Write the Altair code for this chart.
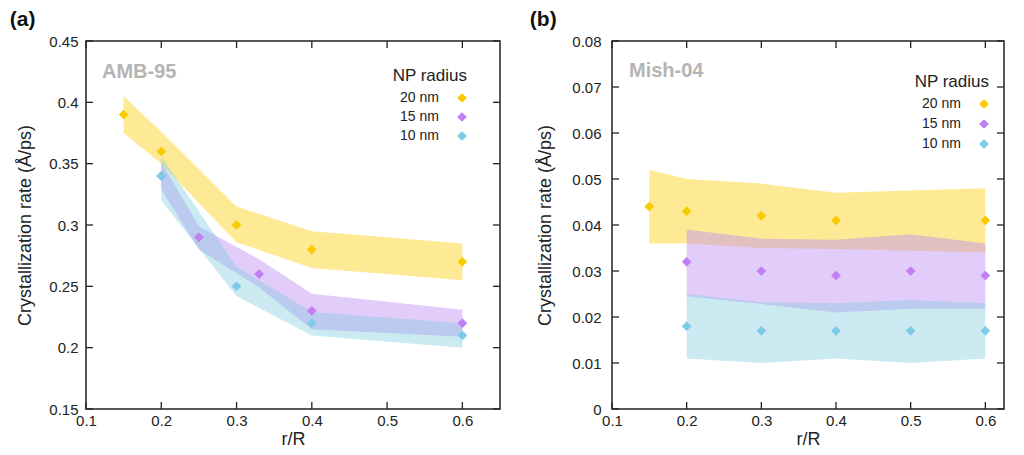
import altair as alt
import pandas as pd

FONT = "Liberation Sans"
SERIES = ["20 nm", "15 nm", "10 nm"]
PT_COLORS = ["#F8CA00", "#C17EF5", "#7DCBE6"]
BAND_COLORS = {"20 nm": "#FDCE11", "15 nm": "#BF8EF4", "10 nm": "#80CADE"}
BAND_OPACITY = {"20 nm": 0.45, "15 nm": 0.45, "10 nm": 0.40}
AX = "#222222"

# ---------------- Panel (a): AMB-95 ----------------
a20_x = [0.15, 0.2, 0.3, 0.4, 0.6]
a20_y = [0.39, 0.36, 0.30, 0.28, 0.27]
a20_lo = [0.375, 0.350, 0.286, 0.265, 0.255]
a20_hi = [0.405, 0.376, 0.315, 0.295, 0.285]

a15_x = [0.2, 0.25, 0.33, 0.4, 0.6]
a15_y = [0.34, 0.29, 0.26, 0.23, 0.22]
a15_lo = [0.329, 0.280, 0.249, 0.215, 0.209]
a15_hi = [0.351, 0.299, 0.272, 0.244, 0.231]

a10_x = [0.2, 0.3, 0.4, 0.6]
a10_y = [0.34, 0.25, 0.22, 0.21]
a10_lo = [0.320, 0.242, 0.210, 0.200]
a10_hi = [0.356, 0.266, 0.229, 0.220]

a_yticks = [0.15, 0.2, 0.25, 0.3, 0.35, 0.4, 0.45]

# ---------------- Panel (b): Mish-04 ----------------
b20_x = [0.15, 0.2, 0.3, 0.4, 0.6]
b20_y = [0.044, 0.043, 0.042, 0.041, 0.041]
b20_lo = [0.036, 0.036, 0.035, 0.0348, 0.034]
b20_hi = [0.052, 0.050, 0.049, 0.047, 0.048]

b15_x = [0.2, 0.3, 0.4, 0.5, 0.6]
b15_y = [0.032, 0.030, 0.029, 0.030, 0.029]
b15_lo = [0.0245, 0.0228, 0.021, 0.0218, 0.0218]
b15_hi = [0.039, 0.037, 0.0368, 0.038, 0.036]

b10_x = [0.2, 0.3, 0.4, 0.5, 0.6]
b10_y = [0.018, 0.017, 0.017, 0.017, 0.017]
b10_lo = [0.011, 0.010, 0.011, 0.010, 0.011]
b10_hi = [0.025, 0.0232, 0.023, 0.0237, 0.023]

b_yticks = [0, 0.01, 0.02, 0.03, 0.04, 0.05, 0.06, 0.07, 0.08]

x_ticks = [0.1, 0.2, 0.3, 0.4, 0.5, 0.6]
panel_tags = ["AMB-95", "Mish-04"]
panel_labels = ["(a)", "(b)"]
legend_title = "NP radius"
x_title = "r/R"
y_title = "Crystallization rate (Å/ps)"


def frame(groups):
    rows = []
    for name, (xs, ys, lo, hi) in zip(SERIES, groups):
        for x, y, l, h in zip(xs, ys, lo, hi):
            rows.append({"x": x, "y": y, "lo": l, "hi": h, "series": name})
    return pd.DataFrame(rows)


def panel(df, xdom, ydom, yticks, label, tag, W, H, lab_pad, tit_pad, legx, legy, rowpad, tagx, tagy):
    xs = alt.Scale(domain=xdom, nice=False, zero=False)
    ys = alt.Scale(domain=ydom, nice=False, zero=False)
    xax = alt.Axis(values=x_ticks, format="~g", title=x_title, labelFlush=False,
                   labelPadding=4, titlePadding=2)
    yax = alt.Axis(values=yticks, format="~g", title=y_title,
                   labelPadding=lab_pad, titlePadding=tit_pad)
    X = alt.X("x:Q", scale=xs, axis=xax)
    base = alt.Chart(df)
    layers = []
    for s in SERIES:
        layers.append(
            base.transform_filter(alt.datum.series == s)
            .mark_area(color=BAND_COLORS[s], opacity=BAND_OPACITY[s])
            .encode(x=X, y=alt.Y("lo:Q", scale=ys, axis=yax), y2="hi:Q")
        )
    layers.append(
        base.mark_point(shape="diamond", filled=True, size=95, opacity=1)
        .encode(
            x=X,
            y=alt.Y("y:Q", scale=ys, axis=yax),
            color=alt.Color(
                "series:N",
                sort=SERIES,
                scale=alt.Scale(domain=SERIES, range=PT_COLORS),
                legend=alt.Legend(
                    title=legend_title, orient="none", legendX=legx, legendY=legy,
                    symbolType="diamond", symbolSize=95, symbolOpacity=1,
                    symbolStrokeWidth=0, labelAlign="right", labelOffset={"expr": "-30"},
                    titleAnchor="end", titleFontSize=17, titleFontWeight="normal",
                    titleFont=FONT, labelFont=FONT, labelFontSize=14,
                    labelColor=AX, titleColor=AX, rowPadding=rowpad,
                    titlePadding=6, padding=0,
                ),
            ),
        )
    )
    ytdf = pd.DataFrame({"v": yticks})
    xtdf = pd.DataFrame({"v": x_ticks})
    tick_style = dict(color=AX, strokeWidth=1.3)
    Yt = alt.Y("v:Q", scale=ys, axis=yax)
    Xt = alt.X("v:Q", scale=xs, axis=xax)
    layers.append(alt.Chart(ytdf).mark_rule(**tick_style).encode(y=Yt, x=alt.value(0), x2=alt.value(7)))
    layers.append(alt.Chart(ytdf).mark_rule(**tick_style).encode(y=Yt, x=alt.value(W - 7), x2=alt.value(W)))
    layers.append(alt.Chart(xtdf).mark_rule(**tick_style).encode(x=Xt, y=alt.value(0), y2=alt.value(7)))
    layers.append(alt.Chart(xtdf).mark_rule(**tick_style).encode(x=Xt, y=alt.value(H - 7), y2=alt.value(H)))
    layers.append(
        alt.Chart(pd.DataFrame({"t": [tag]}))
        .mark_text(align="left", baseline="alphabetic", fontSize=20, fontWeight="bold",
                   color="#B4B4B4", font=FONT)
        .encode(x=alt.value(tagx), y=alt.value(tagy), text="t:N")
    )
    return alt.layer(*layers).properties(
        width=W, height=H,
        title=alt.TitleParams(label, anchor="start", frame="bounds", fontSize=21,
                              fontWeight="bold", font=FONT, color="#111", offset=4, dx=-7),
    )


df_a = frame([(a20_x, a20_y, a20_lo, a20_hi), (a15_x, a15_y, a15_lo, a15_hi), (a10_x, a10_y, a10_lo, a10_hi)])
df_b = frame([(b20_x, b20_y, b20_lo, b20_hi), (b15_x, b15_y, b15_lo, b15_hi), (b10_x, b10_y, b10_lo, b10_hi)])

pa = panel(df_a, [0.1, 0.65], [0.15, 0.45], a_yticks, panel_labels[0], panel_tags[0], 414, 368,
           8, 14, 306, 27, 5, 16, 37)
pb = panel(df_b, [0.1, 0.625], [0, 0.08], b_yticks, panel_labels[1], panel_tags[1], 392, 368,
           11, 17, 302, 33, 6, 17, 36)

chart = (
    alt.hconcat(pa, pb, spacing=27)
    .resolve_scale(color="independent")
    .resolve_legend(color="independent")
    .configure_view(stroke=AX, strokeWidth=1.5)
    .configure_axis(labelFont=FONT, labelFontSize=15, labelColor=AX, titleFont=FONT,
                    titleFontSize=18, titleFontWeight="normal", titleColor=AX,
                    ticks=False, tickSize=0, domain=False, grid=False)
    .properties(padding={"left": 1, "top": 0, "right": 0, "bottom": 0})
)

chart.save("out.html", embed_options={"renderer": "svg", "actions": False})
